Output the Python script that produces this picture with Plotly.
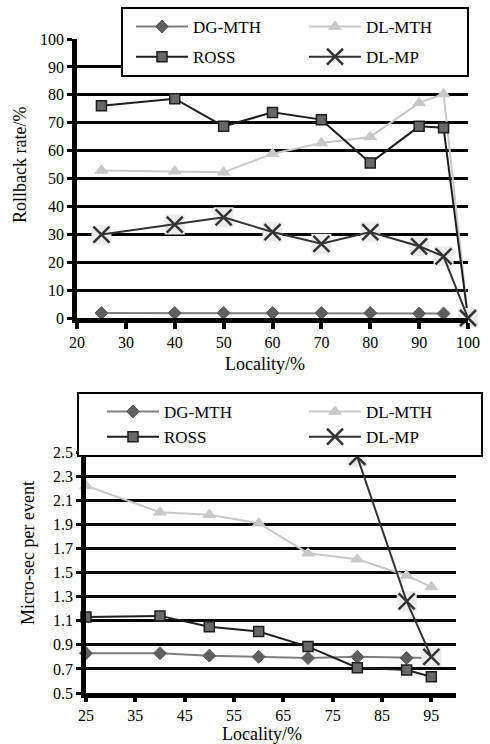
import plotly.graph_objects as go

FONT = "Liberation Serif, Times New Roman, serif"
W, H = 490, 744

# ---------- top chart: rollback rate ----------
top_x_dg = [25, 40, 50, 60, 70, 80, 90, 95]
top_x = [25, 40, 50, 60, 70, 80, 90, 95, 100]
top_dg_mth = [1.8, 1.8, 1.8, 1.8, 1.8, 1.8, 1.6, 1.6]
top_dl_mth = [52.9, 52.6, 52.2, 58.9, 62.7, 64.9, 77.1, 80.3, 0]
top_ross = [76.1, 78.6, 68.7, 73.7, 71.1, 55.6, 68.7, 68.2, 0]
top_dl_mp = [29.9, 33.5, 36.1, 30.8, 26.6, 30.8, 25.7, 22.1, 0]
top_xticks = [20, 30, 40, 50, 60, 70, 80, 90, 100]
top_yticks = [0, 10, 20, 30, 40, 50, 60, 70, 80, 90, 100]

# ---------- bottom chart: micro-sec per event ----------
bot_x = [25, 40, 50, 60, 70, 80, 90, 95]
bot_dg_mth = [0.83, 0.83, 0.81, 0.80, 0.79, 0.80, 0.79, 0.79]
bot_dl_mth = [2.22, 2.00, 1.98, 1.91, 1.66, 1.61, 1.475, 1.38]
bot_ross = [1.13, 1.14, 1.05, 1.01, 0.885, 0.71, 0.69, 0.635]
bot_x_mp = [80, 90, 95]
bot_dl_mp = [2.46, 1.26, 0.80]
bot_xticks = [25, 35, 45, 55, 65, 75, 85, 95]
bot_yticks = [0.5, 0.7, 0.9, 1.1, 1.3, 1.5, 1.7, 1.9, 2.1, 2.3, 2.5]

STY = {
    "DG-MTH": dict(line=dict(color="#7f7f7f", width=2),
                   marker=dict(symbol="diamond", size=10, color="#5f5f5f",
                               line=dict(color="#5f5f5f", width=1))),
    "DL-MTH": dict(line=dict(color="#c8c8c8", width=2),
                   marker=dict(symbol="triangle-up", size=11, color="#c8c8c8",
                               line=dict(color="#c8c8c8", width=1))),
    "ROSS": dict(line=dict(color="#1e1e1e", width=2),
                 marker=dict(symbol="square", size=10, color="#686868",
                             line=dict(color="#1e1e1e", width=1.5))),
    "DL-MP": dict(line=dict(color="#333333", width=2),
                  marker=dict(symbol="x-thin-open", size=16, color="#333333",
                              line=dict(color="#333333", width=2.5))),
}

fig = go.Figure()


def add_series(name, x, y, xa, ya, legend, suffix):
    s = STY[name]
    fig.add_trace(go.Scatter(
        x=x, y=y, name=name, mode="lines+markers",
        xaxis=xa, yaxis=ya, legend=legend, legendgroup=name + suffix,
        line=s["line"], marker=s["marker"], cliponaxis=False,
    ))


def add_bg(x, y, xa, ya):
    fig.add_trace(go.Scatter(
        x=x, y=y, mode="markers", xaxis=xa, yaxis=ya, showlegend=False,
        hoverinfo="skip", cliponaxis=False,
        marker=dict(symbol="square", size=20, color="#ececec"),
    ))


# top
add_series("DG-MTH", top_x_dg, top_dg_mth, "x", "y", "legend", "1")
add_series("DL-MTH", top_x, top_dl_mth, "x", "y", "legend", "1")
add_series("ROSS", top_x, top_ross, "x", "y", "legend", "1")
add_bg(top_x, top_dl_mp, "x", "y")
add_series("DL-MP", top_x, top_dl_mp, "x", "y", "legend", "1")

# bottom
add_series("DG-MTH", bot_x, bot_dg_mth, "x2", "y2", "legend2", "2")
add_series("DL-MTH", bot_x, bot_dl_mth, "x2", "y2", "legend2", "2")
add_series("ROSS", bot_x, bot_ross, "x2", "y2", "legend2", "2")
add_bg(bot_x_mp, bot_dl_mp, "x2", "y2")
add_series("DL-MP", bot_x_mp, bot_dl_mp, "x2", "y2", "legend2", "2")

tickfont = dict(family=FONT, size=16, color="black")
common_x = dict(ticks="outside", tickwidth=4, tickcolor="black",
                showline=True, linewidth=4.5, linecolor="black",
                showgrid=False, zeroline=False, tickfont=tickfont,
                fixedrange=True, automargin=False)
common_y = dict(ticks="outside", ticklen=5, tickwidth=3, tickcolor="black",
                showline=True, linewidth=4.5, linecolor="black",
                showgrid=True, gridcolor="black", gridwidth=2.5,
                zeroline=False, tickfont=tickfont, fixedrange=True, automargin=False)

legfont = dict(family=FONT, size=17, color="black")
titlefont = dict(family=FONT, size=18, color="black")

fig.update_layout(
    width=W, height=H,
    margin=dict(l=0, r=0, t=0, b=0, autoexpand=False),
    paper_bgcolor="white", plot_bgcolor="white",
    xaxis=dict(domain=[77 / W, 468 / W], anchor="y", range=[20, 100],
               tickvals=top_xticks, ticklen=6, **common_x),
    yaxis=dict(domain=[1 - 318 / H, 1 - 39 / H], anchor="x", range=[0, 100],
               tickvals=top_yticks, **common_y),
    xaxis2=dict(domain=[86 / W, 456 / W], anchor="y2", range=[25, 100],
                tickvals=bot_xticks, ticklen=4, **common_x),
    yaxis2=dict(domain=[1 - 693 / H, 1 - 452 / H], anchor="x2", range=[0.5, 2.5],
                tickvals=bot_yticks, tickformat=".1f", **common_y),
    legend=dict(x=121 / W, y=1 - 7 / H, xanchor="left", yanchor="top",
                orientation="h", traceorder="grouped", tracegroupgap=5,
                entrywidth=96, entrywidthmode="pixels", itemwidth=52,
                indentation=10, bgcolor="white", bordercolor="black",
                borderwidth=2, font=legfont),
    legend2=dict(x=77 / W, y=1 - 392 / H, xanchor="left", yanchor="top",
                 orientation="h", traceorder="grouped", tracegroupgap=0,
                 entrywidth=110, entrywidthmode="pixels", itemwidth=52,
                 indentation=25, bgcolor="white", bordercolor="black",
                 borderwidth=2, font=legfont),
    annotations=[
        dict(text="Locality/%", x=265 / W, y=1 - 364 / H, xref="paper", yref="paper",
             xanchor="center", yanchor="middle", showarrow=False, font=titlefont),
        dict(text="Rollback rate/%", x=20 / W, y=1 - 165 / H, xref="paper", yref="paper",
             xanchor="center", yanchor="middle", showarrow=False, textangle=-90,
             font=titlefont),
        dict(text="Locality/%", x=262 / W, y=1 - 734 / H, xref="paper", yref="paper",
             xanchor="center", yanchor="middle", showarrow=False, font=titlefont),
        dict(text="Micro-sec per event", x=28 / W, y=1 - 553 / H, xref="paper", yref="paper",
             xanchor="center", yanchor="middle", showarrow=False, textangle=-90,
             font=titlefont),
    ],
)

fig.write_html("out.html", config={"displayModeBar": False},
               post_script="document.body.style.margin='0px';")
